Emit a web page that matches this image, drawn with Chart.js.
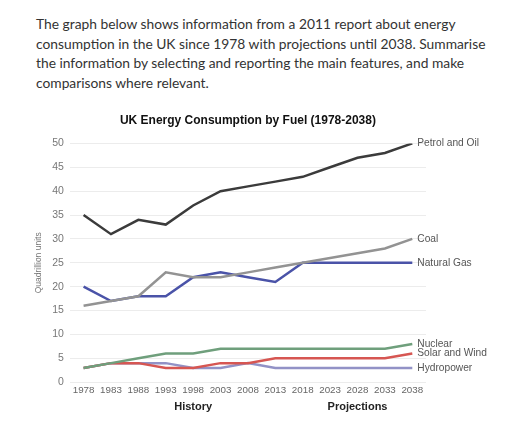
<!DOCTYPE html>
<html>
<head>
<meta charset="utf-8">
<script src="https://cdn.jsdelivr.net/npm/chart.js@4"></script>
<style>
body { margin: 0; background: #fff; width: 512px; height: 429px; overflow: hidden; position: relative; }
#intro { position: absolute; left: 36px; top: 14px; width: 470px; margin: 0;
  font-family: "Lato", sans-serif; font-size: 13.8px; line-height: 19.6px; color: #333; }
#wrap { position: absolute; left: 0; top: 104px; width: 512px; height: 320px; }
</style>
</head>
<body>
<p id="intro">The graph below shows information from a 2011 report about energy<br>consumption in the UK since 1978 with projections until 2038. Summarise<br>the information by selecting and reporting the main features, and make<br>comparisons where relevant.</p>
<div id="wrap"><canvas id="chart"></canvas></div>
<script>
// chart data
var years = ["1978", "1983", "1988", "1993", "1998", "2003", "2008", "2013", "2018", "2023", "2028", "2033", "2038"];
var petrol = [35, 31, 34, 33, 37, 40, 41, 42, 43, 45, 47, 48, 50];
var coal = [16, 17, 18, 23, 22, 22, 23, 24, 25, 26, 27, 28, 30];
var gas = [20, 17, 18, 18, 22, 23, 22, 21, 25, 25, 25, 25, 25];
var nuclear = [3, 4, 5, 6, 6, 7, 7, 7, 7, 7, 7, 7, 8];
var solar = [3, 4, 4, 3, 3, 4, 4, 5, 5, 5, 5, 5, 6];
var hydro = [3, 4, 4, 4, 3, 3, 4, 3, 3, 3, 3, 3, 3];
var sections = [{ label: "History", at: 4 }, { label: "Projections", at: 10 }];

function series(name, values, color) {
	return {
		label: name,
		data: values,
		borderColor: color,
		backgroundColor: color,
		borderWidth: 2.5,
		pointRadius: 0,
		tension: 0
	};
}

// line names at the end of each line, and section names under the axis
var endLabels = {
	id: "endLabels",
	afterDatasetsDraw: function(chart) {
		var ctx = chart.ctx;
		ctx.save();
		ctx.font = "10.2px 'Liberation Sans', Arial, sans-serif";
		ctx.fillStyle = "#555";
		ctx.textBaseline = "middle";
		ctx.textAlign = "left";
		chart.data.datasets.forEach(function(ds, i) {
			var pts = chart.getDatasetMeta(i).data;
			var last = pts[pts.length - 1];
			ctx.fillText(ds.label, last.x + 5, last.y);
		});
		var xs = chart.scales.x;
		ctx.font = "bold 11px 'Liberation Sans', Arial, sans-serif";
		ctx.fillStyle = "#222";
		ctx.textAlign = "center";
		sections.forEach(function(s) {
			ctx.fillText(s.label, xs.getPixelForValue(s.at), xs.bottom + 9);
		});
		ctx.restore();
	}
};

var ctx = document.getElementById("chart").getContext("2d");

var chart = new Chart(ctx, {
	type: "line",
	data: {
		labels: years,
		datasets: [
			series("Petrol and Oil", petrol, "#3b3b3b"),
			series("Coal", coal, "#939393"),
			series("Natural Gas", gas, "#4a53a8"),
			series("Nuclear", nuclear, "#6f9f7c"),
			series("Solar and Wind", solar, "#d65652"),
			series("Hydropower", hydro, "#9292c6")
		]
	},
	options: {
		responsive: true,
		maintainAspectRatio: false,
		animation: false,
		layout: { padding: { left: 30, right: 86, top: 5, bottom: 26 } },
		plugins: {
			legend: { display: false },
			tooltip: { enabled: false },
			title: {
				display: true,
				text: "UK Energy Consumption by Fuel (1978-2038)",
				color: "#111",
				fullSize: false,
				font: { family: "'Liberation Sans', Arial, sans-serif", size: 12, weight: "bold" },
				padding: { top: 4, bottom: 16 }
			}
		},
		scales: {
			x: {
				offset: true,
				grid: { display: false, drawTicks: false },
				border: { display: false },
				ticks: { color: "#666", font: { family: "'Liberation Sans', Arial, sans-serif", size: 9.8 }, maxRotation: 0, autoSkip: false, padding: 2 }
			},
			y: {
				min: 0,
				max: 50,
				ticks: { stepSize: 5, color: "#777", font: { family: "'Liberation Sans', Arial, sans-serif", size: 10.5 }, padding: 6 },
				grid: { color: "#ececec", drawTicks: false },
				border: { display: false },
				title: {
					display: true,
					text: "Quadrillion units",
					color: "#777",
					font: { family: "'Liberation Sans', Arial, sans-serif", size: 8.5 },
					padding: { bottom: 2 }
				}
			}
		}
	},
	plugins: [endLabels]
});
</script>
</body>
</html>
